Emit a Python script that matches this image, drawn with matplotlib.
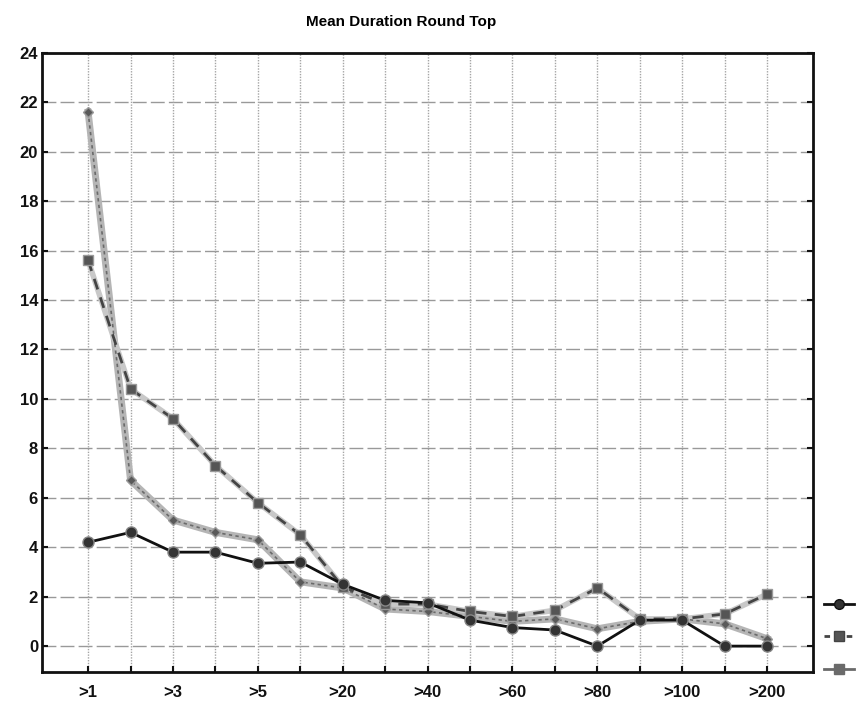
import numpy as np
import matplotlib
matplotlib.use("Agg")
import matplotlib.pyplot as plt
from matplotlib.lines import Line2D

plt.rcParams["font.family"] = ["Liberation Sans", "DejaVu Sans"]

# categories (only every other one is labelled on the axis)
categories = [">1", ">2", ">3", ">4", ">5", ">10", ">20", ">30", ">40",
              ">50", ">60", ">70", ">80", ">90", ">100", ">150", ">200"]
shown_labels = [">1", ">3", ">5", ">20", ">40", ">60", ">80", ">100", ">200"]

# values
series_solid = [4.2, 4.6, 3.8, 3.8, 3.35, 3.4, 2.5, 1.85, 1.75,
                1.05, 0.75, 0.65, 0.0, 1.05, 1.05, 0.0, 0.0]
series_gray = [21.6, 6.7, 5.1, 4.6, 4.3, 2.6, 2.35, 1.5, 1.4,
               1.2, 1.0, 1.1, 0.7, 1.0, 1.1, 0.9, 0.3]
series_dash = [15.6, 10.4, 9.2, 7.3, 5.8, 4.5, 2.4, 1.7, 1.7,
               1.4, 1.2, 1.45, 2.35, 1.1, 1.1, 1.3, 2.1]

x = np.arange(len(categories))

fig = plt.figure(figsize=(8.63, 7.03), dpi=100)
ax = fig.add_axes([0.049, 0.044, 0.893, 0.881])

# grid
for yv in range(0, 25, 2):
    ax.axhline(yv, color="#999999", lw=1.0, ls=(0, (10, 3)), zorder=0)
for xv in x:
    ax.axvline(xv, color="#a5a5a5", lw=1.0, ls=(0, (1, 1)), zorder=0)

# gray thick line with diamonds
ax.plot(x, series_gray, color="#b5b5b5", lw=5, zorder=2)
ax.plot(x, series_gray, color="#6a6a6a", lw=1.2, ls=(0, (2, 2)),
        marker="D", ms=5, mfc="#5a5a5a", mec="#9a9a9a", zorder=3)

# dashed line with squares
ax.plot(x, series_dash, color="#c8c8c8", lw=4, zorder=2)
ax.plot(x, series_dash, color="#444444", lw=2, ls=(0, (4, 3)),
        marker="s", ms=7, mfc="#555555", mec="#999999", zorder=3)

# black solid line with circles
ax.plot(x, series_solid, color="#111111", lw=2, marker="o", ms=8,
        mfc="#333333", mec="#888888", zorder=4)

ax.set_xlim(-1.08, len(categories) - 1 + 1.08)
ax.set_ylim(-1.05, 24)
ax.set_yticks(range(0, 25, 2))
ax.set_xticks(x)
ax.set_xticklabels([c if c in shown_labels else "" for c in categories])

for s in ax.spines.values():
    s.set_linewidth(2)
    s.set_color("#111111")

ax.tick_params(axis="both", direction="in", length=4, width=1.5,
               labelsize=12, colors="#111111")
ax.tick_params(axis="y", right=True, pad=3)
ax.tick_params(axis="x", pad=9)
for lab in ax.get_xticklabels() + ax.get_yticklabels():
    lab.set_fontweight("bold")

fig.text(0.465, 0.968, "Mean Duration Round Top", ha="center", va="center",
         fontsize=11, fontweight="bold")

# legend, cut off at the right edge of the figure
handles = [
    Line2D([], [], color="#111111", lw=2, marker="o", ms=7, mfc="#333333"),
    Line2D([], [], color="#444444", lw=2, ls=(0, (2, 2)), marker="s", ms=7,
           mfc="#555555"),
    Line2D([], [], color="#6a6a6a", lw=2, marker="s", ms=7, mfc="#6a6a6a"),
]
fig.legend(handles, ["", "", ""], loc="upper left",
           bbox_to_anchor=(0.948, 0.158), frameon=False, handlelength=2.2,
           labelspacing=1.35, borderaxespad=0)

fig.savefig("out.png", dpi=100)
